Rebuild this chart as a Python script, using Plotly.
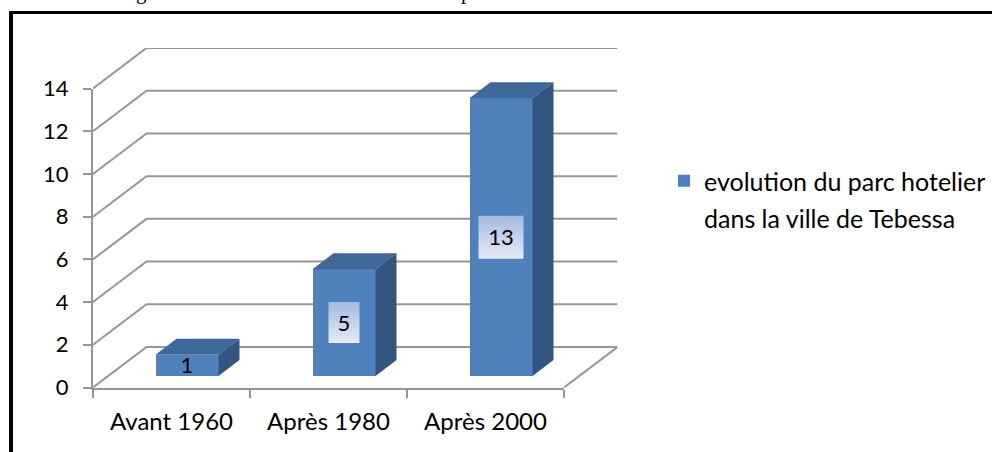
import plotly.graph_objects as go

categories = ["Avant 1960", "Après 1980", "Après 2000"]
values = [1, 5, 13]
y_ticks = [0, 2, 4, 6, 8, 10, 12, 14]
series_name = "evolution du parc hotelier"
series_name_2 = "dans la ville de Tebessa"
cut_text = ["g", "p"]

W, H = 992, 452
X0, X1 = 93.0, 564.0
Y0, Y1 = 387.5, 88.5
DX, DY = 53.5, 40.5
UX = (X1 - X0) / 3
UY = (Y0 - Y1) / 14
GRID = "#969696"
FONT = "Lato"

wall_dx, wall_dy = DX / UX, DY / UY
bar_w = 63 / UX
shift_x, shift_y = 15.5 / UX, 11.5 / UY
depth_x, depth_y = 21 / UX, 16 / UY
label_drop = 2.5 / UY
xrange_ext = [-0.5, 2.5 + wall_dx]
yrange_ext = [0, 14 + wall_dy]
xdom_ext = [X0 / W, (X1 + DX) / W]
ydom_ext = [1 - Y0 / H, 1 - (Y1 - DY) / H]

fig = go.Figure()

# walls and floor (bottom subplot)
for v in y_ticks:
    fig.add_trace(go.Scatter(
        x=[-0.5, -0.5 + wall_dx, 2.5 + wall_dx] + ([2.5] if v == 0 else []),
        y=[v, v + wall_dy, v + wall_dy] + ([0] if v == 0 else []),
        mode="lines", line=dict(color=GRID, width=2), showlegend=False,
        hoverinfo="skip", xaxis="x", yaxis="y"))

# front faces
fig.add_trace(go.Bar(
    x=[i + shift_x for i in range(3)], y=values, base=[shift_y] * 3, width=bar_w,
    marker=dict(color="#4F81BD", line=dict(width=0)),
    name=series_name,
    showlegend=True, xaxis="x2", yaxis="y2"))

# top and side faces, label boxes, label text
for i, v in enumerate(values):
    l = i + shift_x - bar_w / 2
    r = i + shift_x + bar_w / 2
    b = shift_y
    t = shift_y + v
    fig.add_trace(go.Scatter(
        x=[l, r, r + depth_x, l + depth_x, l], y=[t, t, t + depth_y, t + depth_y, t],
        fill="toself", fillcolor="#3F6797", mode="lines", line=dict(width=0),
        showlegend=False, hoverinfo="skip", xaxis="x2", yaxis="y2"))
    fig.add_trace(go.Scatter(
        x=[r, r + depth_x, r + depth_x, r, r], y=[b, b + depth_y, t + depth_y, t, b],
        fill="toself", fillcolor="#34557F", mode="lines", line=dict(width=0),
        showlegend=False, hoverinfo="skip", xaxis="x2", yaxis="y2"))
    if v > 1:
        hw = (15.5 if v < 10 else 22.5) / UX
        hh = (20.5 if v < 10 else 21.5) / UY
        cx, cy = i + shift_x, shift_y + v / 2
        fig.add_trace(go.Scatter(
            x=[cx - hw, cx + hw, cx + hw, cx - hw, cx - hw],
            y=[cy - hh, cy - hh, cy + hh, cy + hh, cy - hh],
            fill="toself", mode="lines", line=dict(width=0),
            fillgradient=dict(type="vertical",
                              colorscale=[[0, "#E6EBF5"], [1, "#A5B9E0"]]),
            showlegend=False, hoverinfo="skip", xaxis="x2", yaxis="y2"))

fig.add_trace(go.Scatter(
    x=[i + shift_x for i in range(3)], y=[shift_y + v / 2 - label_drop for v in values],
    mode="text", text=[str(v) for v in values], textposition="middle center",
    textfont=dict(family=FONT, size=22, color="#000000"),
    showlegend=False, hoverinfo="skip", xaxis="x2", yaxis="y2"))

# carrier of the visible axes
fig.add_trace(go.Scatter(
    x=categories, y=values, mode="lines", line=dict(width=0, color="rgba(0,0,0,0)"),
    showlegend=False, hoverinfo="skip", xaxis="x3", yaxis="y3"))

hidden = dict(visible=False, fixedrange=True)
fig.update_layout(
    width=W, height=H, margin=dict(l=0, r=0, t=0, b=0, autoexpand=False),
    paper_bgcolor="white", plot_bgcolor="rgba(0,0,0,0)",
    font=dict(family=FONT, size=24, color="#000000"),
    bargap=0,
    xaxis=dict(domain=xdom_ext, range=xrange_ext, anchor="y", **hidden),
    yaxis=dict(domain=ydom_ext, range=yrange_ext, anchor="x", **hidden),
    xaxis2=dict(domain=xdom_ext, range=xrange_ext, anchor="y2", **hidden),
    yaxis2=dict(domain=ydom_ext, range=yrange_ext, anchor="x2", **hidden),
    xaxis3=dict(domain=[X0 / W, X1 / W], range=[-0.5, 2.5], anchor="y3",
                type="category", categoryorder="array", categoryarray=categories,
                tickson="boundaries", ticks="outside", ticklen=8, tickwidth=2,
                ticklabelstandoff=12,
                tickcolor=GRID, showline=True, linecolor=GRID, linewidth=2,
                showgrid=False, zeroline=False, fixedrange=True,
                tickfont=dict(family=FONT, size=24, color="#000000")),
    yaxis3=dict(domain=[1 - Y0 / H, 1 - Y1 / H], range=[0, 14], anchor="x3",
                tickvals=y_ticks, ticks="outside", ticklen=8, tickwidth=2,
                ticklabelstandoff=10,
                tickcolor=GRID, showline=True, linecolor=GRID, linewidth=2,
                showgrid=False, zeroline=False, fixedrange=True,
                tickfont=dict(family=FONT, size=22, color="#000000")),
    legend=dict(x=664 / W, y=1 - 181 / H, xanchor="left", yanchor="middle",
                font=dict(family=FONT, size=25, color="#000000"),
                bgcolor="rgba(0,0,0,0)", borderwidth=0, itemclick=False,
                itemdoubleclick=False),
    shapes=[
        dict(type="line", xref="paper", yref="paper", x0=9 / W, x1=1.01, y0=1 - 12.5 / H,
             y1=1 - 12.5 / H, line=dict(color="#000000", width=3)),
        dict(type="line", xref="paper", yref="paper", x0=11 / W, x1=11 / W, y0=-0.01,
             y1=1 - 11 / H, line=dict(color="#000000", width=4)),
    ],
    annotations=[
        dict(text=series_name_2, xref="paper", yref="paper", x=702 / W, y=1 - 218 / H,
             xanchor="left", yanchor="middle", showarrow=False,
             font=dict(family=FONT, size=25, color="#000000")),
        dict(text=cut_text[0], xref="paper", yref="paper", x=141 / W, y=1 + 8 / H,
             xanchor="center", yanchor="middle", showarrow=False,
             font=dict(family="Liberation Serif", size=21, color="#000000")),
        dict(text=cut_text[1], xref="paper", yref="paper", x=466 / W, y=1 + 8 / H,
             xanchor="center", yanchor="middle", showarrow=False,
             font=dict(family="Liberation Serif", size=21, color="#000000")),
    ],
)

fig.write_html("out.html", config={"displayModeBar": False},
               post_script="document.body.style.margin='0';document.body.style.overflow='hidden';")
